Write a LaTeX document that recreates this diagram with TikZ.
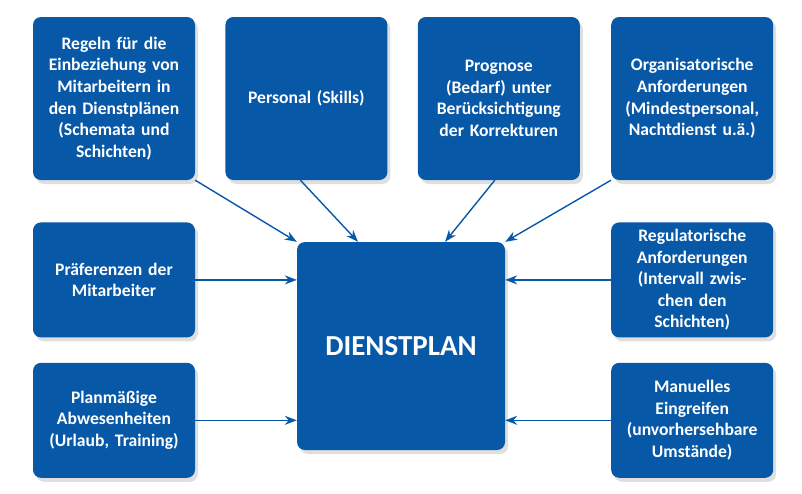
\documentclass[tikz,border=0pt]{standalone}
\usepackage{fontspec}
\setmainfont[WordSpace=0.75]{Carlito}
\usepackage{xcolor}
\usepackage{tikz}
\usetikzlibrary{arrows.meta, positioning, calc, shadows}
\definecolor{planblue}{HTML}{0858A8}

\begin{document}
\begin{tikzpicture}[
  x=1pt, y=1pt,
  node distance=30pt,
  box/.style={fill=planblue, rounded corners=8pt,
              minimum width=162pt, minimum height=163pt,
              text width=154pt, inner sep=0pt,
              font=\fontsize{17.6}{21.6}\selectfont\bfseries, text=white, align=center,
              drop shadow={opacity=0.25, shadow xshift=3pt, shadow yshift=-4pt}},
  lowbox/.style={box, minimum height=115pt},
  planbox/.style={box, minimum width=208pt, minimum height=208pt,
              font=\fontsize{29}{33}\selectfont\bfseries},
  arr/.style={-{Stealth[length=12pt, width=9pt]}, line width=1.4pt, color=planblue}
]
  \useasboundingbox (0,0) rectangle (802,-493);

  % oben
  \node[box] (regeln) at (114,-98.5) {Regeln für die\\Einbeziehung von\\Mitarbeitern in\\den Dienstplänen\\(Schemata und\\Schichten)};
  \node[box, right=of regeln] (personal) {Personal (Skills)};
  \node[box, right=of personal] (prognose) {Prognose\\(Bedarf) unter\\Berücksichtigung\\der Korrekturen};
  \node[box, right=31pt of prognose] (orga) {Organisatorische\\Anforderungen\\(Mindestpersonal,\\Nachtdienst u.ä.)};

  % links
  \node[lowbox, below=42pt of regeln] (praef) {Präferenzen der\\Mitarbeiter};
  \node[lowbox, below=25pt of praef] (abwes) {Planmäßige\\Abwesenheiten\\(Urlaub, Training)};

  % rechts
  \node[lowbox, below=42pt of orga] (regul) {Regulatorische\\Anforderungen\\(Intervall zwis-\\chen den\\Schichten)};
  \node[lowbox, below=25pt of regul] (manuell) {Manuelles\\Eingreifen\\(unvorhersehbare\\Umstände)};

  % Mitte
  \node[planbox] (plan) at (401,-346) {DIENSTPLAN};

  \draw[arr] (regeln.south east) -- (plan.north west);
  \draw[arr] ([xshift=-6pt]personal.south) -- ([xshift=-43pt]plan.north);
  \draw[arr] ([xshift=-4pt]prognose.south) -- ([xshift=44pt]plan.north);
  \draw[arr] (orga.south west) -- (plan.north east);

  \draw[arr] (praef.east) -- (praef.east -| plan.west);
  \draw[arr] (abwes.east) -- (abwes.east -| plan.west);
  \draw[arr] (regul.west) -- (regul.west -| plan.east);
  \draw[arr] (manuell.west) -- (manuell.west -| plan.east);
\end{tikzpicture}
\end{document}
